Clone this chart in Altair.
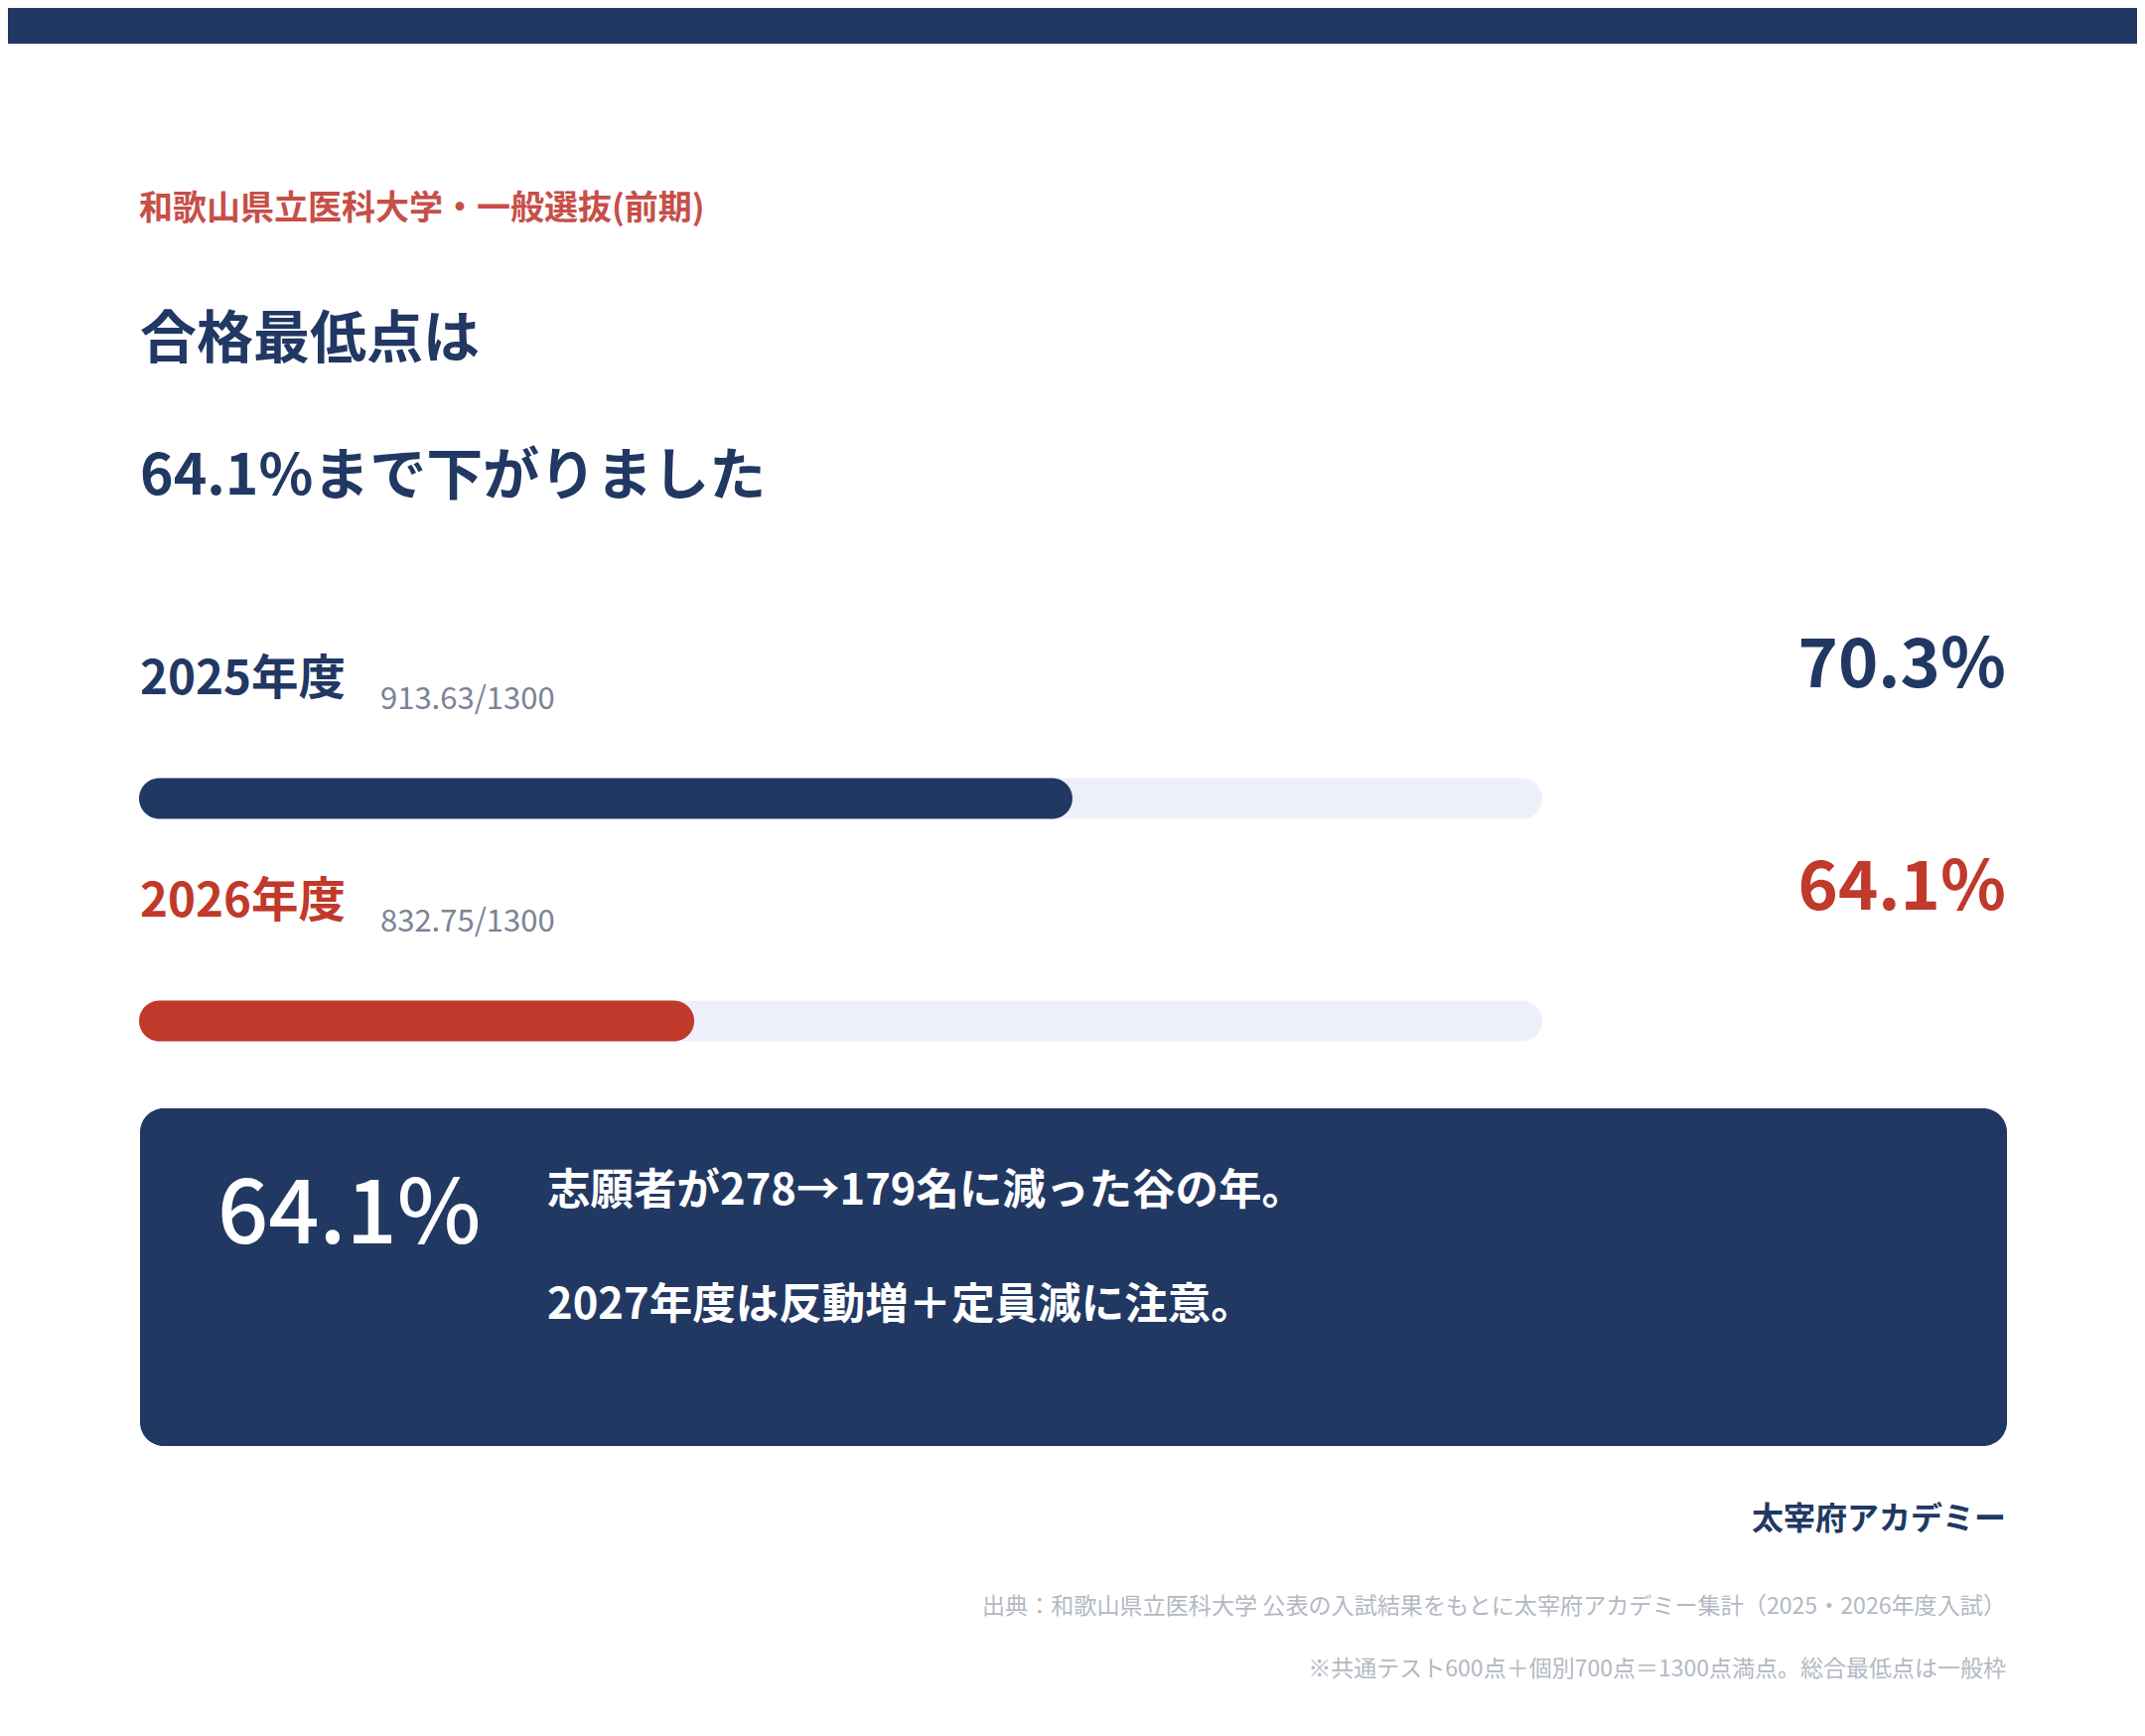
import altair as alt
import pandas as pd

# ---------------- data ----------------
SUBTITLE = "和歌山県立医科大学・一般選抜(前期)"
TITLE_LINE1 = "合格最低点は"
TITLE_LINE2 = "64.1%まで下がりました"
YEARS = ["2025年度", "2026年度"]
SCORES = [913.63, 832.75]
FULL_SCORE = 1300
PCTS = [70.3, 64.1]
BOX_VALUE = "64.1%"
BOX_LINE1 = "志願者が278→179名に減った谷の年。"
BOX_LINE2 = "2027年度は反動増＋定員減に注意。"
BRAND = "太宰府アカデミー"
NOTE1 = "出典：和歌山県立医科大学 公表の入試結果をもとに太宰府アカデミー集計（2025・2026年度入試）"
NOTE2 = "※共通テスト600点＋個別700点＝1300点満点。総合最低点は一般枠"
X_MIN, X_MAX = 55, 78

# ---------------- style ----------------
FONT = "Noto Sans CJK JP"
NAVY = "#213863"
RED = "#c0392b"
SUB_RED = "#c64f48"
TRACK = "#edf0f8"
GRAY = "#7b8394"
LIGHT = "#b3b8c4"
W, H = 2144, 1720

rows = pd.DataFrame({
    "row": list(range(len(YEARS))),
    "year": YEARS,
    "score_label": [f"{s:.2f}/{FULL_SCORE}" for s in SCORES],
    "pct": PCTS,
    "pct_label": [f"{p}%" for p in PCTS],
    "lo": [X_MIN] * len(YEARS),
    "hi": [X_MAX] * len(YEARS),
})

xscale = alt.Scale(domain=[X_MIN, X_MAX], range=[132, 1545], zero=False, nice=False, padding=0)
yscale = alt.Scale(domain=[0, 1], range=[796, 1020], zero=False, nice=False, padding=0)
cscale = alt.Scale(domain=YEARS, range=[NAVY, RED])

one = pd.DataFrame({"k": [0]})


def static_text(text, x, y, size, color, weight="normal", align="left"):
    return alt.Chart(pd.DataFrame({"t": [text]})).mark_text(
        align=align, baseline="alphabetic", font=FONT, fontSize=size,
        fontWeight=weight, color=color
    ).encode(x=alt.value(x), y=alt.value(y), text="t:N")


band = alt.Chart(one).mark_rect(color=NAVY).encode(
    x=alt.value(0), x2=alt.value(W), y=alt.value(0), y2=alt.value(36)
)

track = alt.Chart(rows).mark_bar(
    size=41, cornerRadius=20.5, color=TRACK, orient="horizontal"
).encode(
    x=alt.X("lo:Q", scale=xscale, axis=None),
    x2="hi:Q",
    y=alt.Y("row:Q", scale=yscale, axis=None),
)

bars = alt.Chart(rows).mark_bar(
    size=41, cornerRadius=20.5, orient="horizontal"
).encode(
    x=alt.X("lo:Q", scale=xscale, axis=None),
    x2="pct:Q",
    y=alt.Y("row:Q", scale=yscale, axis=None),
    color=alt.Color("year:N", scale=cscale, legend=None),
)

year_lbl = alt.Chart(rows).mark_text(
    align="left", baseline="alphabetic", dy=-105, font=FONT, fontSize=47.5,
    fontWeight="bold"
).encode(
    x=alt.value(133),
    y=alt.Y("row:Q", scale=yscale, axis=None),
    text="year:N",
    color=alt.Color("year:N", scale=cscale, legend=None),
)

score_lbl = alt.Chart(rows).mark_text(
    align="left", baseline="alphabetic", dy=-90, font=FONT, fontSize=31,
    color=GRAY
).encode(
    x=alt.value(375),
    y=alt.Y("row:Q", scale=yscale, axis=None),
    text="score_label:N",
)

pct_lbl = alt.Chart(rows).mark_text(
    align="right", baseline="alphabetic", dy=-112.5, font=FONT, fontSize=68.5,
    fontWeight="bold"
).encode(
    x=alt.value(2012),
    y=alt.Y("row:Q", scale=yscale, axis=None),
    text="pct_label:N",
    color=alt.Color("year:N", scale=cscale, legend=None),
)

box = alt.Chart(one).mark_rect(cornerRadius=24, color=NAVY).encode(
    x=alt.value(133), x2=alt.value(2013), y=alt.value(1108), y2=alt.value(1448)
)

layers = [
    band,
    static_text(SUBTITLE, 132, 213, 34, SUB_RED, "bold"),
    static_text(TITLE_LINE1, 133, 352, 57, NAVY, "bold"),
    static_text(TITLE_LINE2, 133, 490, 57, NAVY, "bold"),
    track,
    bars,
    year_lbl,
    score_lbl,
    pct_lbl,
    box,
    static_text(BOX_VALUE, 211, 1244, 90, "white", 500),
    static_text(BOX_LINE1, 543, 1205, 43.5, "white", "bold"),
    static_text(BOX_LINE2, 543, 1320, 43.5, "white", "bold"),
    static_text(BRAND, 2012, 1532, 32, NAVY, "bold", "right"),
    static_text(NOTE1, 2012, 1617, 23.1, LIGHT, "normal", "right"),
    static_text(NOTE2, 2012, 1680, 23, LIGHT, "normal", "right"),
]

chart = alt.layer(*layers).properties(
    width=W, height=H, padding=0,
    autosize=alt.AutoSizeParams(type="none"),
    background="white",
).configure_view(stroke=None)

chart.save("out.html", embed_options={"renderer": "svg", "actions": False})
